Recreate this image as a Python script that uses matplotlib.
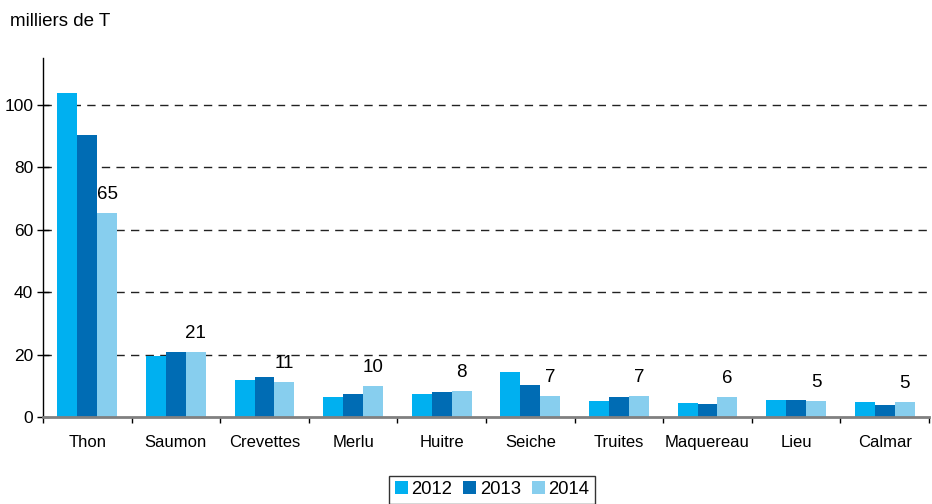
import numpy as np
import matplotlib
matplotlib.use('Agg')
import matplotlib.pyplot as plt

plt.rcParams['font.family'] = ['Liberation Sans', 'DejaVu Sans']

# données (milliers de tonnes)
especes = ['Thon', 'Saumon', 'Crevettes', 'Merlu', 'Huitre', 'Seiche',
           'Truites', 'Maquereau', 'Lieu', 'Calmar']
val_2012 = [103.8, 19.6, 11.9, 6.4, 7.4, 14.4, 5.1, 4.5, 5.4, 4.8]
val_2013 = [90.4, 20.8, 12.8, 7.4, 8.0, 10.3, 6.4, 4.2, 5.4, 3.8]
val_2014 = [65.4, 20.8, 11.2, 9.9, 8.3, 6.7, 6.7, 6.4, 5.1, 4.8]
etiquettes_2014 = ['65', '21', '11', '10', '8', '7', '7', '6', '5', '5']
annees = ['2012', '2013', '2014']
couleurs = ['#00B0F0', '#006CB4', '#87CEEE']

fig = plt.figure(figsize=(9.32, 5.04), dpi=100)
ax = fig.add_axes([0.0461, 0.1726, 0.9507, 0.7123])

x = np.arange(len(especes))
w = 0.225
for i, (vals, c, an) in enumerate(zip([val_2012, val_2013, val_2014], couleurs, annees)):
    ax.bar(x + (i - 1) * w, vals, w, color=c, label=an, zorder=3)

# étiquettes au-dessus des barres 2014
for xi, v, t in zip(x, val_2014, etiquettes_2014):
    ax.annotate(t, (xi + w, v), xytext=(0, 7), textcoords='offset points',
                ha='center', va='bottom', fontsize=13.5)

ax.set_xlim(-0.5, 9.4)
ax.set_ylim(0, 115)
ax.set_yticks(range(0, 101, 20))
ax.tick_params(axis='y', direction='inout', length=8, width=1, labelsize=12.5, pad=3)

# graduations x entre les catégories
ax.set_xticks(np.arange(-0.5, 10, 1))
ax.set_xticklabels([])
ax.set_xticks(x, minor=True)
ax.set_xticklabels(especes, minor=True, fontsize=12)
ax.tick_params(axis='x', which='major', direction='out', length=4, width=1, color='black')
ax.tick_params(axis='x', which='minor', length=0, pad=13)

for y in range(20, 101, 20):
    ax.axhline(y, color='#222222', lw=1, linestyle=(0, (6, 4.5)), zorder=1)

ax.spines['top'].set_visible(False)
ax.spines['right'].set_visible(False)
ax.spines['left'].set_color('black')
ax.spines['left'].set_linewidth(1)
ax.spines['bottom'].set_color('#808080')
ax.spines['bottom'].set_linewidth(2)
ax.spines['bottom'].set_zorder(4)

fig.text(0.011, 0.958, 'milliers de T', fontsize=13.5, va='center', ha='left')

leg = fig.legend(loc='center', bbox_to_anchor=(0.528, 0.028), ncol=3, fontsize=13.3,
                 frameon=True, fancybox=False, handlelength=0.7, handleheight=0.7,
                 handletextpad=0.2, columnspacing=0.6, borderpad=0.3, borderaxespad=0)
leg.get_frame().set_edgecolor('black')
leg.get_frame().set_linewidth(1)

plt.savefig('out.png', dpi=100)
